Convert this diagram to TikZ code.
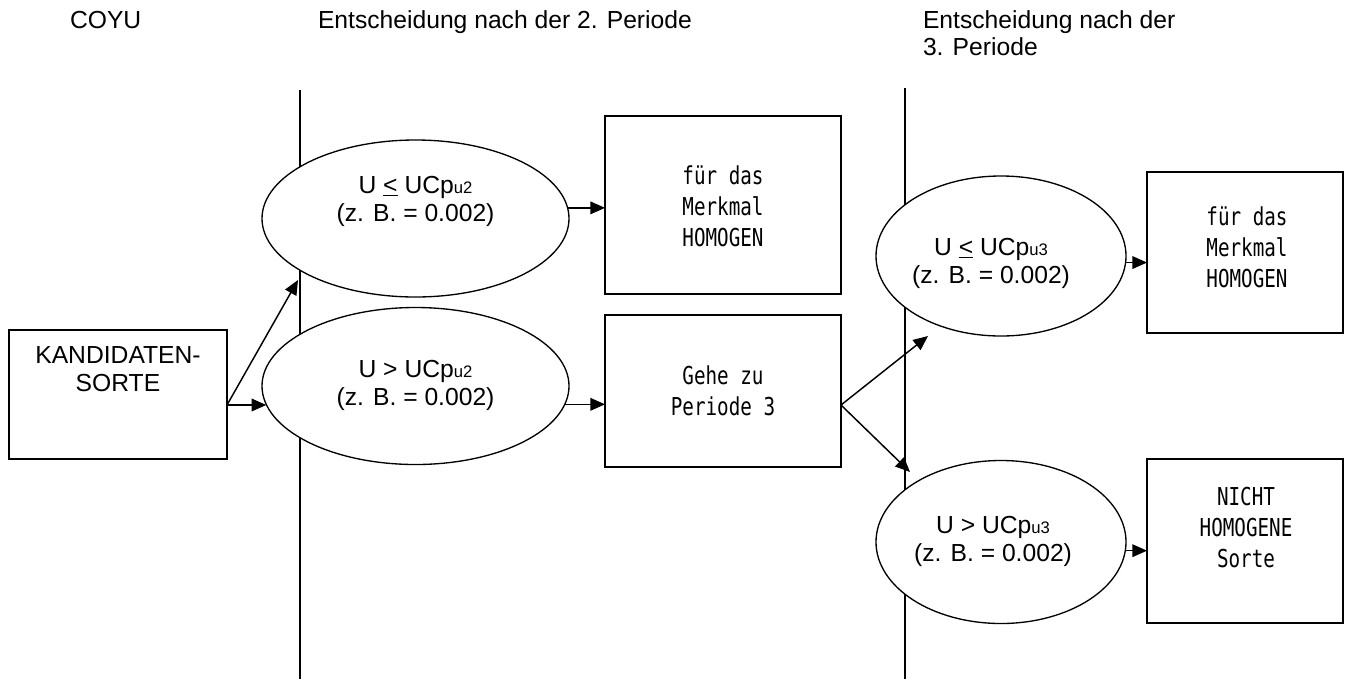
\documentclass[tikz,border=0pt]{standalone}
\usepackage{fontspec}
\setmainfont{Liberation Sans}
\newfontfamily\gothic[FakeStretch=0.78]{DejaVu Sans Mono}
\usetikzlibrary{arrows.meta,shapes.geometric,calc}

% small lowered index after UCp
\newcommand\usub[1]{\raisebox{-0.5pt}{\fontsize{12.5}{12.5}\selectfont #1}}

\begin{document}
\begin{tikzpicture}[x=0.75pt,y=-0.75pt,
  every node/.style={inner sep=0pt, outer sep=0pt},
  divider/.style={line width=1.5pt},
  frame/.style={draw, line width=1.3pt, fill=white, rectangle},
  oval/.style={draw, line width=1pt, fill=white, ellipse},
  arr/.style={line width=1.1pt, -{Triangle[length=11pt,width=9.5pt]}},
  lbl/.style={font=\fontsize{18.5}{21}\selectfont, align=center},
  mono/.style={font=\gothic\fontsize{18.5}{23.25}\selectfont, align=center},
]
\useasboundingbox (0,0) rectangle (1348,679);

% column headings
\node[lbl, anchor=base west] (hcoyu) at (70,28) {COYU};
\node[lbl, anchor=base west] (hper2) at (318,28) {Entscheidung nach der 2. Periode};
\node[lbl, anchor=base west] (hper3a) at (923,28) {Entscheidung nach der};
\node[lbl, anchor=base west] (hper3b) at (923,55) {3. Periode};

% column dividers
\coordinate (d1top) at (300,90);
\coordinate (d1bot) at (300,679);
\coordinate (d2top) at (905,88);
\coordinate (d2bot) at (905,679);
\draw[divider] (d1top) -- (d1bot);
\draw[divider] (d2top) -- (d2bot);

% candidate variety
\node[frame, minimum width=163.5pt, minimum height=96.75pt] (cand) at (118,394.5) {};
\node[lbl] (candt) at (118,369) {KANDIDATEN-\\SORTE};

% decision after period 2
\node[oval, minimum width=230.25pt, minimum height=117.75pt] (e1) at (415.5,218.5) {};
\node[lbl] (e1t) at (415.5,201) {U \underline{<} UCp\usub{u2}\\(z. B. = 0.002)};
\node[oval, minimum width=230.25pt, minimum height=117.75pt] (e2) at (415.5,386) {};
\node[lbl] (e2t) at (415.5,385) {U > UCp\usub{u2}\\(z. B. = 0.002)};

\node[frame, minimum width=177pt, minimum height=133.5pt] (b1) at (723,205) {};
\node[mono] (b1t) at (723,206) {für das\\Merkmal\\HOMOGEN};
\node[frame, minimum width=177pt, minimum height=114pt] (b2) at (723,391) {};
\node[mono] (b2t) at (723,391) {Gehe zu\\Periode 3};

% decision after period 3
\node[oval, minimum width=187.5pt, minimum height=120pt] (e3) at (1001,256) {};
\node[lbl] (e3t) at (991,263) {U \underline{<} UCp\usub{u3}\\(z. B. = 0.002)};
\node[oval, minimum width=187.5pt, minimum height=122.25pt] (e4) at (1001,542) {};
\node[lbl] (e4t) at (993,541) {U > UCp\usub{u3}\\(z. B. = 0.002)};

\node[frame, minimum width=147pt, minimum height=120.75pt] (b3) at (1245,252.5) {};
\node[mono] (b3t) at (1247,247) {für das\\Merkmal\\HOMOGEN};
\node[frame, minimum width=147pt, minimum height=123pt] (b4) at (1245,541) {};
\node[mono] (b4t) at (1246,528) {NICHT\\HOMOGENE\\Sorte};

% connectors
\coordinate (split) at (227,405);
\coordinate (upTip) at (298,280);
\draw[arr] (split) -- (upTip);
\draw[arr] (split) -- (split -| e2.187);

\draw[arr] (e1.4) -- (e1.4 -| b1.west);
\draw[arr] (e2.-7) -- (e2.-7 -| b2.west);

\coordinate (fan) at (841,405);
\coordinate (fanTipA) at (928,336);
\coordinate (fanTipB) at (910,472);
\draw[arr] (fan) -- (fanTipA);
\draw[arr] (fan) -- (fanTipB);

\draw[arr] (e3.-3) -- (e3.-3 -| b3.west);
\draw[arr] (e4.-4) -- (e4.-4 -| b4.west);
\end{tikzpicture}
\end{document}
